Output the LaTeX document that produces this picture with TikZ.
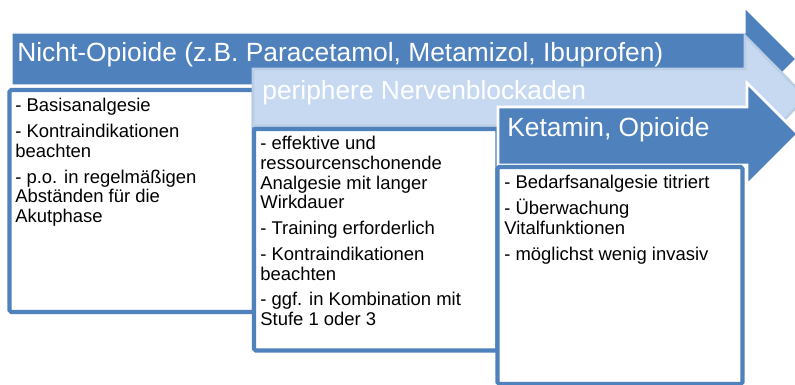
\documentclass[tikz,border=0pt]{standalone}
\usepackage{fontspec}
\setmainfont{Liberation Sans}
\definecolor{stufeblau}{HTML}{4F81BD}
\definecolor{stufehell}{HTML}{C6D9F1}
\definecolor{stufehellrand}{HTML}{B9CDE5}

\begin{document}
\begin{tikzpicture}[x=0.02cm,y=-0.02cm,
    kopf/.style={anchor=base west,inner sep=0pt,text=white,font=\fontsize{15}{18}\selectfont},
    liste/.style={anchor=north west,inner sep=0pt,align=left,font=\fontsize{10.5}{11.2}\selectfont},
    kasten/.style={draw=stufeblau,line width=2.3pt,fill=white,rounded corners=1pt}]
    \useasboundingbox (0,0) rectangle (795,385);
    \clip (0,0) rectangle (795,385);

    % Stufe 1
    \draw[fill=stufeblau,draw=white,line width=0.8pt] (12,33) -- (745,33) -- (745,8) -- (796,59) -- (745,110) -- (745,85) -- (12,85) -- cycle;
    \draw node at (17,62)[name=nop,kopf]{Nicht-Opioide (z.B. Paracetamol, Metamizol, Ibuprofen)};
    \draw[kasten] (9.5,90) rectangle (254,312);
    \draw node at (15,98)[name=nopT,liste]{- Basisanalgesie\\[3.5pt]- Kontraindikationen\\beachten\\[3.5pt]- p.o. in regelmäßigen\\Abständen für die\\Akutphase};

    % Stufe 2
    \draw[fill=stufehell,draw=stufehellrand,line width=1.5pt] (253,69) -- (745,69) -- (745,36) -- (806,97.5) -- (745,159) -- (745,126) -- (253,126) -- cycle;
    \draw node at (262,100)[name=nerv,kopf]{periphere Nervenblockaden};
    \draw[kasten] (254,129) rectangle (497.5,350.5);
    \draw node at (260,136)[name=nervT,liste]{- effektive und\\ressourcenschonende\\Analgesie mit langer\\Wirkdauer\\[3.5pt]- Training erforderlich\\[3.5pt]- Kontraindikationen\\beachten\\[3.5pt]- ggf. in Kombination mit\\Stufe 1 oder 3};

    % Stufe 3
    \draw[fill=stufeblau,draw=white,line width=1.5pt] (498,107) -- (747,107) -- (747,83) -- (798,134) -- (747,185) -- (747,165) -- (498,165) -- cycle;
    \draw node at (507,137)[name=ket,kopf]{Ketamin, Opioide};
    \draw[kasten] (497.5,167) rectangle (742.5,384);
    \draw node at (504,175)[name=ketT,liste]{- Bedarfsanalgesie titriert\\[3.5pt]- Überwachung\\Vitalfunktionen\\[3.5pt]- möglichst wenig invasiv};
\end{tikzpicture}
\end{document}
